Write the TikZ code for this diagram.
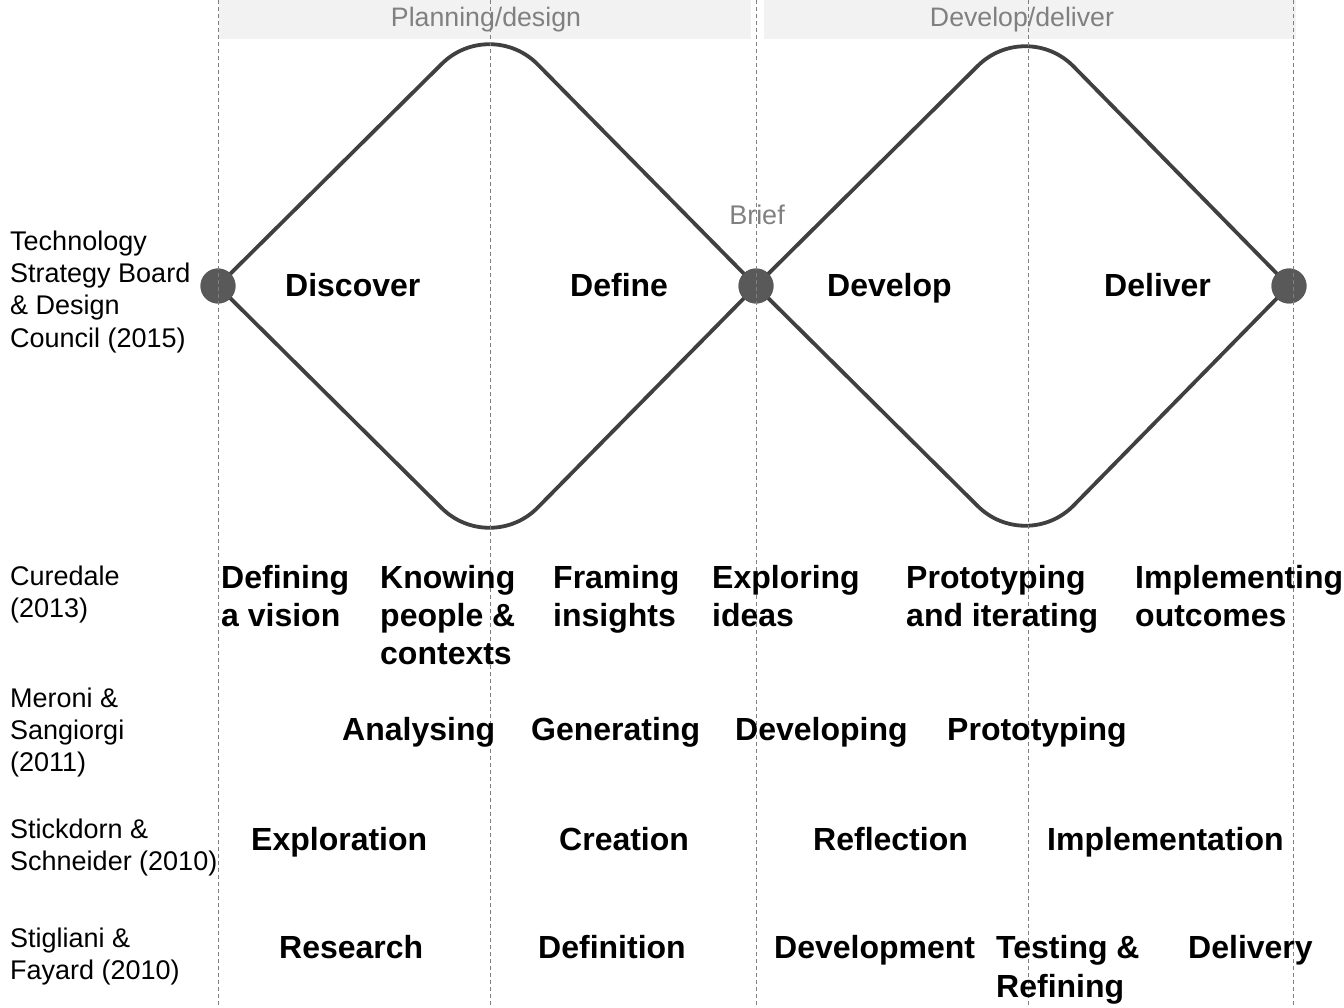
\documentclass[tikz,border=0pt]{standalone}
\usepackage{fontspec}
\setmainfont{Liberation Sans}
\definecolor{linec}{HTML}{404040}
\definecolor{dotc}{HTML}{595959}
\definecolor{bandc}{HTML}{F2F2F2}
\definecolor{greyt}{HTML}{808080}
\definecolor{dashc}{HTML}{7F7F7F}
\tikzset{
  stage/.style={inner sep=0pt, anchor=base west, font=\fontsize{32}{38}\selectfont\bfseries, text=black},
  src/.style={inner sep=0pt, anchor=base west, font=\fontsize{27}{32}\selectfont, text=black},
  head/.style={inner sep=0pt, anchor=base, font=\fontsize{26.7}{30}\selectfont, text=greyt},
  band/.style={fill=bandc, draw=none},
  dia/.style={draw=linec, line width=3.8pt},
  dot/.style={circle, fill=dotc, draw=none, minimum size=35pt, inner sep=0pt},
  guide/.style={draw=dashc, line width=0.8pt, dash pattern=on 4pt off 3pt}
}
\begin{document}
\begin{tikzpicture}[x=1pt,y=-1pt]
\useasboundingbox (0,0) rectangle (1344,1008);
% header bands
\fill[band] (219,0) rectangle (751,39);
\fill[band] (764,0) rectangle (1296,39);
\node[head] (hplan) at (486,27) {Planning/design};
\node[head] (hdev) at (1022,27) {Develop/deliver};
% diamonds
\node[dot] (c1) at (218,286) {};
\node[dot] (c2) at (756,286) {};
\node[dot] (c3) at (1289,286) {};
\coordinate (t1) at (490,16);
\coordinate (b1) at (490,556);
\coordinate (t2) at (1026,18);
\coordinate (b2) at (1026,554);
\draw[dia, rounded corners=68pt] (c1.center) -- (t1) -- (c2.center);
\draw[dia, rounded corners=68pt] (c1.center) -- (b1) -- (c2.center);
\draw[dia, rounded corners=68pt] (c2.center) -- (t2) -- (c3.center);
\draw[dia, rounded corners=68pt] (c2.center) -- (b2) -- (c3.center);
\node[dot] at (c1) {};
\node[dot] at (c2) {};
\node[dot] at (c3) {};
% guides
\coordinate (g1t) at (218,0); \coordinate (g1b) at (218,1008);
\coordinate (g2t) at (490,0); \coordinate (g2b) at (490,1008);
\coordinate (g3t) at (756,0); \coordinate (g3b) at (756,1008);
\coordinate (g4t) at (1028,0); \coordinate (g4b) at (1028,1008);
\coordinate (g5t) at (1293,0); \coordinate (g5b) at (1293,1008);
\draw[guide] (g1t) -- (g1b);
\draw[guide] (g2t) -- (g2b);
\draw[guide] (g3t) -- (g3b);
\draw[guide] (g4t) -- (g4b);
\draw[guide] (g5t) -- (g5b);
\node[head, font=\fontsize{27}{30}\selectfont] (brief) at (757,225) {Brief};
% sources (left column)
\node[src] (s1a) at (10,251) {Technology};
\node[src] (s1b) at (10,283) {Strategy Board};
\node[src] (s1c) at (10,315) {\& Design};
\node[src] (s1d) at (10,347) {Council (2015)};
\node[src] (s2a) at (10,585) {Curedale};
\node[src] (s2b) at (10,617) {(2013)};
\node[src] (s3a) at (10,707) {Meroni \&};
\node[src] (s3b) at (10,739) {Sangiorgi};
\node[src] (s3c) at (10,771) {(2011)};
\node[src] (s4a) at (10,838) {Stickdorn \&};
\node[src] (s4b) at (10,870) {Schneider (2010)};
\node[src] (s5a) at (10,947) {Stigliani \&};
\node[src] (s5b) at (10,979) {Fayard (2010)};
% row 1
\node[stage] (r1a) at (285,297) {Discover};
\node[stage] (r1b) at (570,297) {Define};
\node[stage] (r1c) at (827,297) {Develop};
\node[stage] (r1d) at (1104,297) {Deliver};
% row 2 Curedale
\node[stage] (r2a1) at (221,588) {Defining};
\node[stage] (r2a2) at (221,626) {a vision};
\node[stage] (r2b1) at (380,588) {Knowing};
\node[stage] (r2b2) at (380,626) {people \&};
\node[stage] (r2b3) at (380,664) {contexts};
\node[stage] (r2c1) at (553,588) {Framing};
\node[stage] (r2c2) at (553,626) {insights};
\node[stage] (r2d1) at (712,588) {Exploring};
\node[stage] (r2d2) at (712,626) {ideas};
\node[stage] (r2e1) at (906,588) {Prototyping};
\node[stage] (r2e2) at (906,626) {and iterating};
\node[stage] (r2f1) at (1135,588) {Implementing};
\node[stage] (r2f2) at (1135,626) {outcomes};
% row 3 Meroni
\node[stage] (r3a) at (342,740) {Analysing};
\node[stage] (r3b) at (531,740) {Generating};
\node[stage] (r3c) at (735,740) {Developing};
\node[stage] (r3d) at (947,740) {Prototyping};
% row 4 Stickdorn
\node[stage] (r4a) at (251,850) {Exploration};
\node[stage] (r4b) at (559,850) {Creation};
\node[stage] (r4c) at (813,850) {Reflection};
\node[stage] (r4d) at (1047,850) {Implementation};
% row 5 Stigliani
\node[stage] (r5a) at (279,958) {Research};
\node[stage] (r5b) at (538,958) {Definition};
\node[stage] (r5c) at (774,958) {Development};
\node[stage] (r5d1) at (996,958) {Testing \&};
\node[stage] (r5d2) at (996,997) {Refining};
\node[stage] (r5e) at (1188,958) {Delivery};
\end{tikzpicture}
\end{document}
